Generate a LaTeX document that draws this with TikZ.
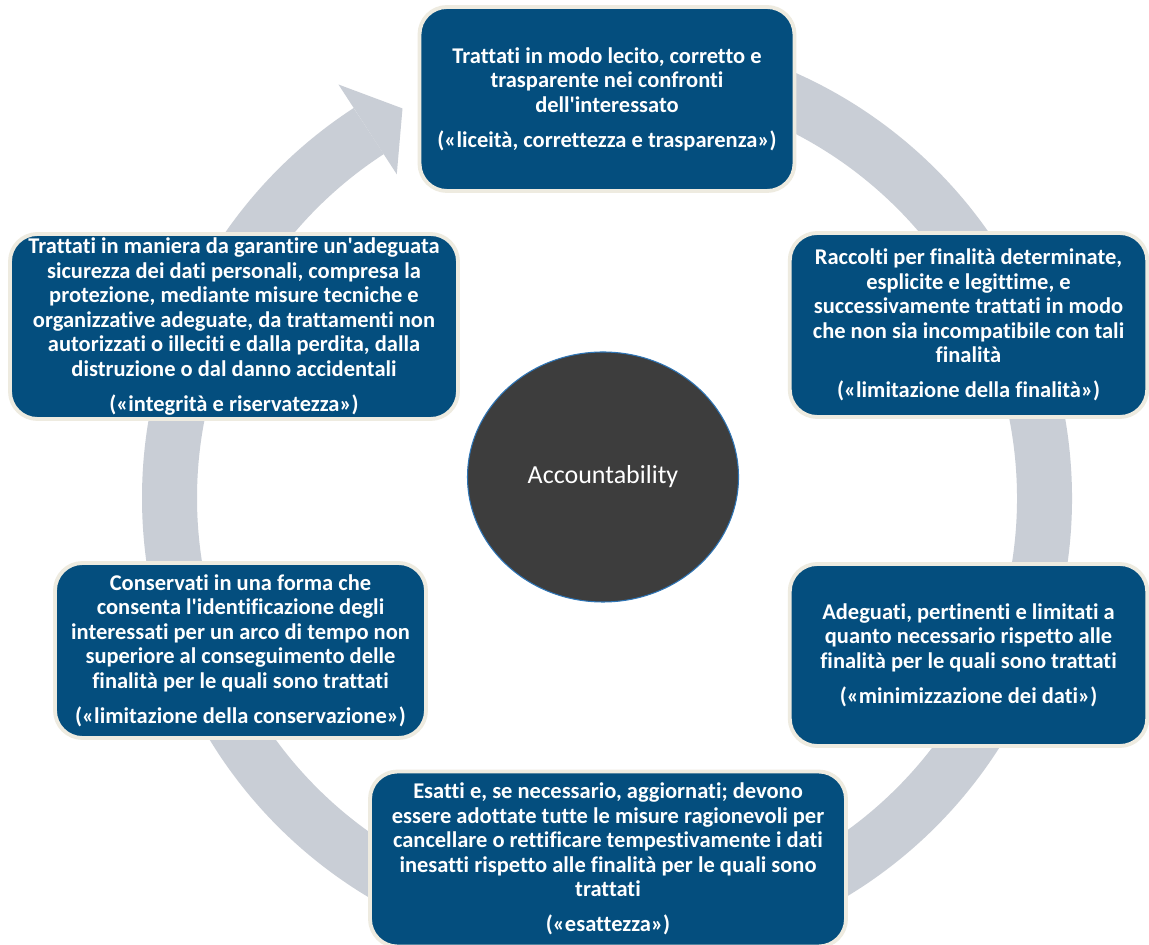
\documentclass[tikz,border=0pt]{standalone}
\usepackage{fontspec}
\setmainfont{Carlito}[Ligatures={NoCommon}]
\usetikzlibrary{shapes.geometric}

\definecolor{boxblue}{RGB}{4,78,126}
\definecolor{boxrim}{RGB}{238,235,224}
\definecolor{ringgray}{RGB}{201,206,214}
\definecolor{hubgray}{RGB}{61,61,61}
\definecolor{hubrim}{RGB}{46,117,182}

\begin{document}
\begin{tikzpicture}[
    principle/.style={draw=boxrim, line width=2.2pt, fill=boxblue, rounded corners=0.55cm,
      text=white, align=center, inner sep=0pt,
      font=\bfseries\fontsize{12.8}{13.9}\selectfont},
    hub/.style={ellipse, draw=hubrim, line width=0.6pt, fill=hubgray, text=white,
      inner sep=0pt, font=\fontsize{14.8}{17}\selectfont}
  ]
  \useasboundingbox (0,0) rectangle (22.98,18.88);
  \fill[white] (0,0) rectangle (22.98,18.88);

  % big circular arrow behind everything
  \begin{scope}[shift={(12.14,8.92)}]
    \draw[ringgray, line width=1.1cm] (95:8.75) arc[start angle=95, end angle=-237, radius=8.75];
    \fill[ringgray] (123:9.86) -- (117.7:8.8) -- (123:7.72) -- cycle;
  \end{scope}

  \node[hub, minimum width=5.42cm, minimum height=5.0cm] (acc) at (12.06,9.34) {Accountability};

  \node[principle, minimum width=7.5cm, minimum height=3.68cm] (lic) at (12.14,16.9)
    {Trattati in modo lecito, corretto e\\ trasparente nei confronti\\ dell\textquotesingle interessato\\[6pt]
     («liceità, correttezza e trasparenza»)};
  \node[principle, minimum width=7.15cm, minimum height=3.68cm] (fin) at (19.37,12.38)
    {Raccolti per finalità determinate,\\ esplicite e legittime, e\\ successivamente trattati in modo\\
     che non sia incompatibile con tali\\ finalità\\[6pt] («limitazione della finalità»)};
  \node[principle, minimum width=7.15cm, minimum height=3.64cm] (min) at (19.37,5.78)
    {Adeguati, pertinenti e limitati a\\ quanto necessario rispetto alle\\ finalità per le quali sono trattati\\[6pt]
     («minimizzazione dei dati»)};
  \node[principle, minimum width=9.52cm, minimum height=3.5cm] (esa) at (12.16,1.70)
    {Esatti e, se necessario, aggiornati; devono\\ essere adottate tutte le misure ragionevoli per\\
     cancellare o rettificare tempestivamente i dati\\ inesatti rispetto alle finalità per le quali sono\\
     trattati\\[6pt] («esattezza»)};
  \node[principle, minimum width=7.42cm, minimum height=3.5cm] (con) at (4.81,5.87)
    {Conservati in una forma che\\ consenta l\textquotesingle identificazione degli\\ interessati per un arco di tempo non\\
     superiore al conseguimento delle\\ finalità per le quali sono trattati\\[6pt]
     («limitazione della conservazione»)};
  \node[principle, minimum width=8.96cm, minimum height=3.7cm] (int) at (4.68,12.35)
    {Trattati in maniera da garantire un\textquotesingle adeguata\\ sicurezza dei dati personali, compresa la\\
     protezione, mediante misure tecniche e\\ organizzative adeguate, da trattamenti non\\
     autorizzati o illeciti e dalla perdita, dalla\\ distruzione o dal danno accidentali\\[6pt]
     («integrità e riservatezza»)};
\end{tikzpicture}
\end{document}
